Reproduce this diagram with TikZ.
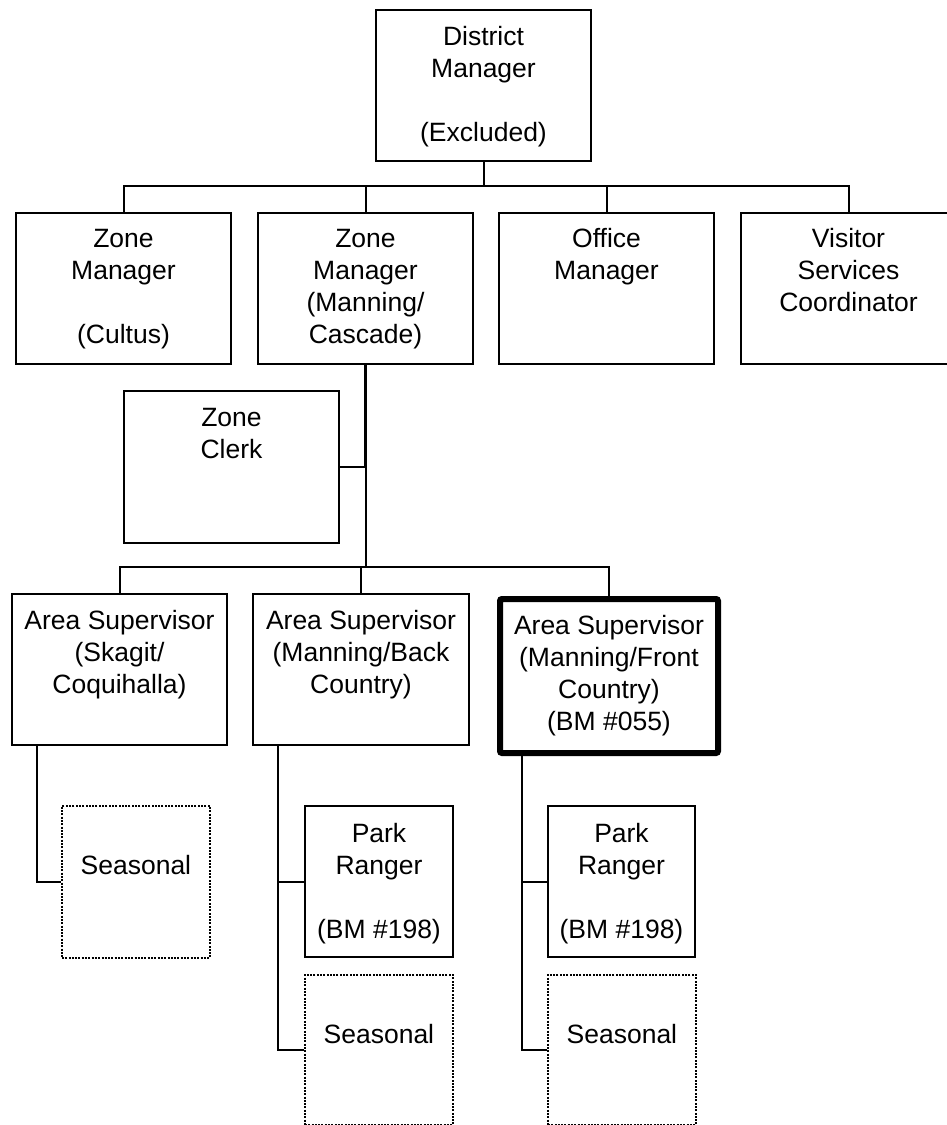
\documentclass[tikz,border=0pt]{standalone}
\usepackage{fontspec}
\setmainfont{Liberation Sans}
\begin{document}
\begin{tikzpicture}[x=1pt,y=-1pt,
  box/.style={draw, line width=2pt, rectangle, inner sep=0pt, anchor=north west},
  thickbox/.style={box, line width=6pt, rounded corners=2pt},
  seasonbox/.style={box, line width=1.8pt, dash pattern=on 2pt off 1.3pt},
  txt/.style={anchor=north, align=center, inner sep=0pt, font=\fontsize{26.5}{32}\selectfont},
  conn/.style={draw, line width=2pt}]
\useasboundingbox (0,0) rectangle (947,1125);
% boxes
\node[box, minimum width=215pt, minimum height=151pt] (dm) at (375,9) {};
\node[box, minimum width=215pt, minimum height=151pt] (zm1) at (15,212) {};
\node[box, minimum width=215pt, minimum height=151pt] (zm2) at (257,212) {};
\node[box, minimum width=215pt, minimum height=151pt] (om) at (498,212) {};
\node[box, minimum width=215pt, minimum height=151pt] (vsc) at (740,212) {};
\node[box, minimum width=215pt, minimum height=152pt] (zc) at (123,390) {};
\node[box, minimum width=215pt, minimum height=151pt] (as1) at (11,593) {};
\node[box, minimum width=216pt, minimum height=151pt] (as2) at (252,593) {};
\node[thickbox, minimum width=218pt, minimum height=154pt] (as3) at (497,596) {};
\node[seasonbox, minimum width=148pt, minimum height=152pt] (s1) at (61,805) {};
\node[box, minimum width=148pt, minimum height=151pt] (pr2) at (304,805) {};
\node[seasonbox, minimum width=148pt, minimum height=150pt] (s2) at (304,974) {};
\node[box, minimum width=147pt, minimum height=151pt] (pr3) at (547,805) {};
\node[seasonbox, minimum width=148pt, minimum height=150pt] (s3) at (547,974) {};
% texts
\node[txt] (dm-t) at ([yshift=-13.6pt]dm.north) {\strut District\\Manager\\[32pt](Excluded)};
\node[txt] (zm1-t) at ([yshift=-12.6pt]zm1.north) {\strut Zone\\Manager\\[32pt](Cultus)};
\node[txt] (zm2-t) at ([yshift=-12.6pt]zm2.north) {\strut Zone\\Manager\\(Manning/\\Cascade)};
\node[txt] (om-t) at ([yshift=-12.6pt]om.north) {\strut Office\\Manager};
\node[txt] (vsc-t) at ([yshift=-12.6pt]vsc.north) {\strut Visitor\\Services\\Coordinator};
\node[txt] (zc-t) at ([yshift=-13.6pt]zc.north) {\strut Zone\\Clerk};
\node[txt] (as1-t) at ([yshift=-13.6pt]as1.north) {\strut Area Supervisor\\(Skagit/\\Coquihalla)};
\node[txt] (as2-t) at ([yshift=-13.6pt]as2.north) {\strut Area Supervisor\\(Manning/Back\\Country)};
\node[txt] (as3-t) at ([yshift=-15.6pt]as3.north) {\strut Area Supervisor\\(Manning/Front\\Country)\\(BM \#055)};
\node[txt] (pr2-t) at ([yshift=-14.6pt]pr2.north) {\strut Park\\Ranger\\[32pt](BM \#198)};
\node[txt] (pr3-t) at ([yshift=-14.6pt]pr3.north) {\strut Park\\Ranger\\[32pt](BM \#198)};
\node[txt] (s1-t) at ([yshift=-46.6pt]s1.north) {\strut Seasonal};
\node[txt] (s2-t) at ([yshift=-46.6pt]s2.north) {\strut Seasonal};
\node[txt] (s3-t) at ([yshift=-46.6pt]s3.north) {\strut Seasonal};
% helper coordinates
\coordinate (b1) at (0,186);
\coordinate (b2) at (0,567);
\coordinate (t1) at (37,0);
\coordinate (t2) at (278,0);
\coordinate (t3) at (522,0);
% connectors
\draw[conn] (dm.south) -- (dm.south |- b1);
\draw[conn] (zm1.north) -- (zm1.north |- b1) -- (vsc.north |- b1) -- (vsc.north);
\draw[conn] (zm2.north) -- (zm2.north |- b1);
\draw[conn] (om.north) -- (om.north |- b1);
\draw[conn, line width=2.8pt] (zm2.south) -- (zm2.south |- zc.east);
\draw[conn] (zm2.south |- zc.east) -- (zm2.south |- b2);
\draw[conn] (zc.east) -- (zm2.south |- zc.east);
\draw[conn] (as1.north) -- (as1.north |- b2) -- (as3.north |- b2) -- (as3.north);
\draw[conn] (as2.north) -- (as2.north |- b2);
\draw[conn] (as1.south -| t1) |- (s1.west);
\draw[conn] (as2.south -| t2) |- (s2.west);
\draw[conn] (pr2.west) -- (pr2.west -| t2);
\draw[conn] (as3.south -| t3) |- (s3.west);
\draw[conn] (pr3.west) -- (pr3.west -| t3);
\end{tikzpicture}
\end{document}
